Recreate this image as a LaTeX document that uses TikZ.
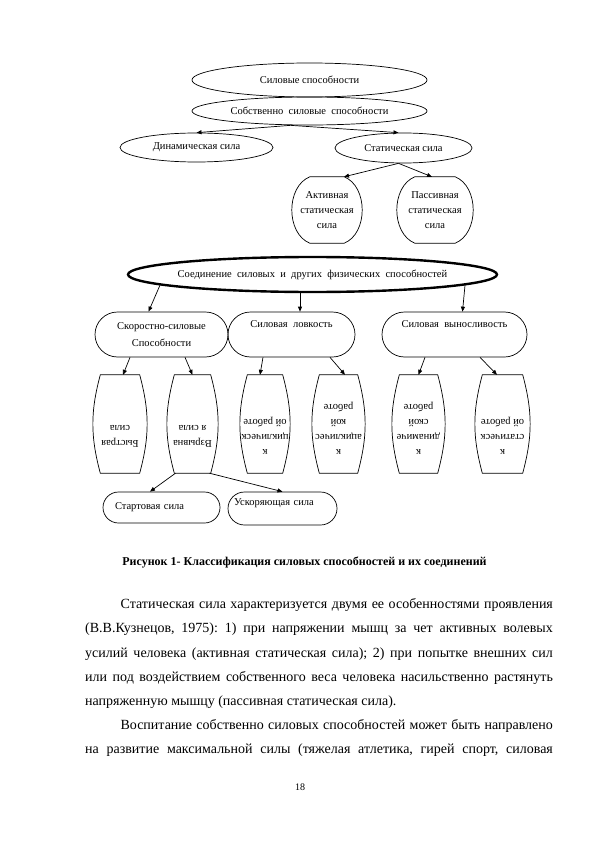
\documentclass[tikz,border=0pt]{standalone}
\usepackage{fontspec}
\setmainfont{Liberation Serif}
\usepackage{graphicx}
\usetikzlibrary{shapes.geometric,arrows.meta}

% upside-down text in the narrow boxes
\newcommand\flipped[1]{\rotatebox{180}{\begin{tabular}[t]{@{}c@{}}#1\end{tabular}}}

\begin{document}
\begin{tikzpicture}[x=1pt,y=-1pt,
  every node/.style={font=\fontsize{10.5}{15}\selectfont},
  ov/.style={ellipse,draw,line width=0.7pt,inner sep=0pt},
  bigov/.style={ellipse,draw,line width=2.4pt,inner xsep=-10pt,inner ysep=0pt},
  pill/.style={rectangle,draw,line width=0.7pt,rounded corners=#1,align=center},
  bulge/.style={rectangle,inner xsep=-12pt},
  tallbox/.style={bulge,minimum height=98pt,text height=60pt,text depth=9pt},
  frame/.style={draw,line width=0.7pt},
  ar/.style={-{Triangle[length=5pt,width=4pt]},line width=0.7pt}]
  \path[use as bounding box,fill=white] (0,0) rectangle (595,842);
  % strength abilities
  \node[ov,minimum width=235pt,minimum height=34pt] (sil) at (309.5,80) {Силовые способности};
  \node[ov,minimum width=235pt,minimum height=28pt,inner xsep=-6pt] (sob) at (309.5,111) {Собственно~ силовые~ способности};
  \node[ov,minimum width=153pt,minimum height=29pt] (din) at (196.5,147.5) {Динамическая сила};
  \node[ov,minimum width=137pt,minimum height=30pt] (stat) at (403.5,148) {Статическая сила};
  \node[bulge,minimum width=34pt,minimum height=66pt,align=center] (akt) at (327,210) {Активная\\статическая\\сила};
  \node[bulge,minimum width=40pt,minimum height=66pt,align=center] (pas) at (435,210) {Пассивная\\статическая\\сила};
  \foreach \n in {akt,pas} \draw[frame] (\n.north west) -- (\n.north east) to[bend left=68] (\n.south east) -- (\n.south west) to[bend left=68] cycle;
  \draw[ar] ([xshift=-19pt]sob.south) -- (din.north);
  \draw[ar] ([xshift=-19pt]sob.south) -- ([xshift=-5pt]stat.north);
  \draw[ar] ([xshift=-5pt]stat.south) -- ([xshift=17pt]akt.north);
  \draw[ar] ([xshift=-5pt]stat.south) -- ([xshift=-3pt]pas.north);
  % joint abilities
  \node[bigov,minimum width=369pt,minimum height=35pt] (soed) at (312.5,274.5) {Соединение~ силовых~ и~ других~ физических~ способностей};
  \node[pill=22.5pt,minimum width=133pt,minimum height=45pt] (skor) at (161.5,334.5) {Скоростно-силовые\\[2pt]Способности};
  \node[pill=22.5pt,minimum width=127pt,minimum height=45pt,text depth=21pt] (lov) at (291.5,334.5) {Силовая~ ловкость};
  \node[pill=22.5pt,minimum width=145pt,minimum height=45pt,text depth=21pt] (vyn) at (454.5,334.5) {Силовая~ выносливость};
  \draw[ar] (soed.184) -- ([xshift=-13pt]skor.north);
  \draw[ar] ([xshift=-12.5pt]soed.south) -- ([xshift=8.5pt]lov.north);
  \draw[ar] (soed.356) -- ([xshift=8pt]vyn.north);
  % narrow boxes
  \node[tallbox,minimum width=39pt,text height=42pt] (b1) at (120,424) {\flipped{Быстрая\\сила}};
  \node[tallbox,minimum width=36pt,text height=42pt] (b2) at (192.5,424) {\flipped{Взрывна\\я сила}};
  \node[tallbox,minimum width=35pt] (b3) at (265,424) {\flipped{к\\циклическ\\ой работе}};
  \node[tallbox,minimum width=38pt] (b4) at (338.5,424) {\flipped{к\\ацикличес\\кой\\работе}};
  \node[tallbox,minimum width=38pt] (b5) at (418.5,424) {\flipped{к\\динамиче\\ской\\работе}};
  \node[tallbox,minimum width=40pt] (b6) at (502.5,424) {\flipped{к\\статическ\\ой работе}};
  \foreach \n in {b1,b2,b3,b4,b5,b6} \draw[frame] (\n.north west) -- (\n.north east) to[bend left=15] (\n.south east) -- (\n.south west) to[bend left=15] cycle;
  \draw[ar] ([xshift=-31.5pt]skor.south) -- ([xshift=3pt]b1.north);
  \draw[ar] ([xshift=23.5pt]skor.south) -- (b2.north);
  \draw[ar] ([xshift=-28.5pt]lov.south) -- ([xshift=-5pt]b3.north);
  \draw[ar] ([xshift=38.5pt]lov.south) -- ([xshift=6.5pt]b4.north);
  \draw[ar] ([xshift=-29.5pt]vyn.south) -- (b5.north);
  \draw[ar] ([xshift=25.5pt]vyn.south) -- ([xshift=-5.5pt]b6.north);
  % explosive strength
  \node[pill=15.5pt,minimum height=31pt,text width=93pt,inner xsep=12pt,align=left] (start) at (161.5,507.5) {Стартовая сила};
  \node[pill=16.5pt,minimum height=33pt,text width=97pt,inner xsep=6pt,align=left,text depth=13pt] (usk) at (282.5,508.5) {Ускоряющая сила};
  \draw[ar] ([xshift=-17pt]b2.south) -- ([xshift=-11.5pt]start.north);
  \draw[ar] ([xshift=17pt]b2.south) -- (usk.north);
  % caption and page text
  \node[font=\bfseries\fontsize{12}{14}\selectfont] (cap) at (304.5,562) {Рисунок 1- Классификация силовых способностей и их соединений};
  \node[anchor=north west,inner sep=0pt,text width=467.7pt,align=justify,
    font=\fontsize{14}{24.15}\selectfont\frenchspacing] (txt) at (85,598.5) {\tolerance=10000\hyphenpenalty=10000
    \hspace*{35.4pt}Статическая сила характеризуется двумя ее особенностями проявления\linebreak
    (В.В.Кузнецов, 1975): 1) при напряжении мышц за чет активных волевых\linebreak
    усилий человека (активная статическая сила); 2) при попытке внешних сил\linebreak
    или под воздействием собственного веса человека насильственно растянуть\linebreak
    напряженную мышцу (пассивная статическая сила).\par
    \hspace*{35.4pt}Воспитание собственно силовых способностей может быть направлено\linebreak
    \makebox[\linewidth][s]{на развитие максимальной силы (тяжелая атлетика, гирей спорт, силовая}};
  \node[font=\fontsize{10}{12}\selectfont] (pg) at (300,787) {18};
\end{tikzpicture}
\end{document}
